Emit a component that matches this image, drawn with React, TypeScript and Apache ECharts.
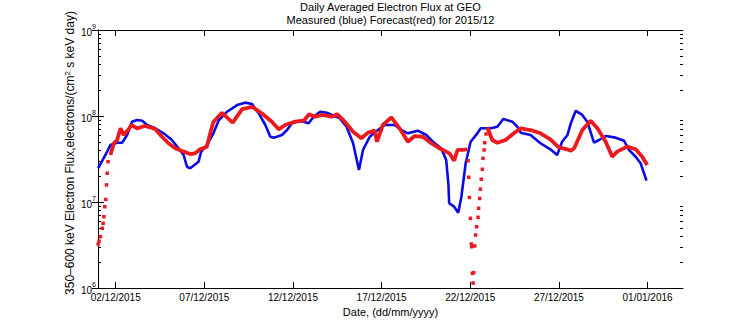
import React, { useEffect, useRef } from 'react';
import * as echarts from 'echarts';

// x values are days since 01/12/2015 00:00 UTC
const startUTC = Date.UTC(2015, 11, 1);

const xTickDays = [1, 6, 11, 16, 21, 26, 31];
const xTickLabels = ['02/12/2015', '07/12/2015', '12/12/2015', '17/12/2015', '22/12/2015', '27/12/2015', '01/01/2016'];

const yMajorTicks = [1e6, 1e7, 1e8, 1e9];
const yMinorTicks = [
  2e6, 3e6, 4e6, 5e6, 6e6, 7e6, 8e6, 9e6,
  2e7, 3e7, 4e7, 5e7, 6e7, 7e7, 8e7, 9e7,
  2e8, 3e8, 4e8, 5e8, 6e8, 7e8, 8e8, 9e8,
];

// Measured (blue)
const measuredDays = [
  0.01, 0.42, 0.70, 1.08, 1.36, 1.64, 1.92, 2.20, 2.49, 2.77,
  3.23, 3.70, 4.17, 4.54, 4.83, 5.02, 5.20, 5.44, 5.67, 5.82,
  6.14, 6.51, 6.82, 7.28, 7.85, 8.31, 8.69, 9.07, 9.44, 9.72,
  9.91, 10.38, 10.66, 10.94, 11.22, 11.60, 11.88, 12.16, 12.53, 12.91,
  13.19, 13.64, 14.02, 14.39, 14.72, 14.95, 15.33, 15.79, 16.17, 16.73,
  17.11, 17.48, 18.04, 18.52, 18.89, 19.36, 19.64, 19.77, 19.81, 20.09,
  20.32, 20.50, 20.74, 21.02, 21.40, 21.59, 22.15, 22.53, 22.86, 23.37,
  23.65, 23.84, 24.40, 24.96, 25.52, 25.90, 26.18, 26.48, 26.67, 26.95,
  27.32, 27.60, 27.98, 28.26, 28.64, 29.20, 29.67, 29.95, 30.33, 30.61,
  30.94,
];
const measuredFlux = [
  2.47e7, 3.52e7, 4.60e7, 4.89e7, 4.89e7, 6.01e7, 8.59e7, 8.98e7, 8.82e7, 7.86e7,
  7.19e7, 6.29e7, 5.26e7, 4.21e7, 3.52e7, 2.57e7, 2.47e7, 2.69e7, 2.94e7, 3.85e7,
  4.60e7, 6.29e7, 8.98e7, 1.12e8, 1.34e8, 1.43e8, 1.38e8, 1.07e8, 7.86e7, 5.74e7,
  5.60e7, 6.01e7, 6.87e7, 8.22e7, 8.59e7, 8.59e7, 8.22e7, 9.82e7, 1.12e8, 1.09e8,
  1.03e8, 9.40e7, 7.51e7, 4.82e7, 2.35e7, 4.03e7, 5.74e7, 6.87e7, 7.86e7, 7.86e7,
  6.87e7, 6.29e7, 6.75e7, 6.01e7, 5.02e7, 4.21e7, 3.08e7, 1.58e7, 9.66e6, 8.82e6,
  7.51e6, 1.15e7, 2.82e7, 5.02e7, 6.29e7, 7.19e7, 7.19e7, 7.51e7, 9.23e7, 8.59e7,
  7.51e7, 6.40e7, 6.01e7, 4.82e7, 4.10e7, 3.52e7, 5.02e7, 6.01e7, 8.22e7, 1.15e8,
  1.03e8, 8.59e7, 4.89e7, 5.26e7, 5.85e7, 5.60e7, 5.16e7, 4.03e7, 3.36e7, 2.82e7,
  1.77e7,
];

// Forecast (red), continuous stretch 1
const forecastADays = [
  0.70, 0.89, 1.08, 1.27, 1.45, 1.73, 1.88, 2.20, 2.63, 2.95,
  3.23, 3.61, 3.98, 4.36, 4.83, 5.20, 5.48, 5.76, 6.14, 6.33,
  6.51, 6.99, 7.60, 8.13, 8.69, 9.25, 9.81, 10.19, 10.56, 11.12,
  11.60, 11.91, 12.25, 12.63, 13.19, 13.49, 13.92, 14.39, 14.86, 15.23,
  15.61, 15.74, 16.07, 16.55, 17.01, 17.48, 17.86, 18.32, 18.80, 19.26,
  19.83, 20.09, 20.28, 20.56, 20.84,
];
const forecastAFlux = [
  3.52e7, 4.82e7, 5.26e7, 7.19e7, 6.01e7, 7.00e7, 7.86e7, 7.19e7, 7.65e7, 7.39e7,
  7.00e7, 5.74e7, 4.82e7, 4.21e7, 3.85e7, 3.61e7, 3.68e7, 4.10e7, 4.40e7, 6.29e7,
  8.51e7, 1.09e8, 8.36e7, 1.20e8, 1.28e8, 1.07e8, 8.59e7, 7.00e7, 7.86e7, 8.59e7,
  8.82e7, 1.05e8, 9.82e7, 1.03e8, 9.82e7, 1.05e8, 8.59e7, 6.57e7, 5.51e7, 6.40e7,
  6.75e7, 5.02e7, 7.86e7, 9.66e7, 7.19e7, 5.02e7, 5.85e7, 5.74e7, 4.82e7, 4.21e7,
  3.68e7, 3.02e7, 4.03e7, 4.03e7, 4.10e7,
];

// Forecast (red), continuous stretch 2
const forecastBDays = [
  21.96, 22.24, 22.53, 22.99, 23.46, 23.84, 24.40, 24.96, 25.52, 25.99,
  26.46, 26.67, 26.86, 27.32, 27.79, 28.17, 28.64, 29.01, 29.29, 29.85,
  30.33, 30.70, 30.98,
];
const forecastBFlux = [
  7.39e7, 5.26e7, 4.89e7, 5.26e7, 6.29e7, 7.19e7, 6.87e7, 6.29e7, 5.36e7, 4.33e7,
  4.10e7, 3.95e7, 4.21e7, 6.87e7, 8.82e7, 7.19e7, 5.02e7, 3.36e7, 3.85e7, 4.40e7,
  4.10e7, 3.36e7, 2.69e7,
];

// Forecast (red), isolated hourly points on steep parts
const forecastDotDays = [
  0.01, 0.06, 0.14, 0.24, 0.29, 0.33, 0.38, 0.44, 0.48, 0.52, 0.57,
  20.88, 20.91, 20.95, 21.01, 21.06, 21.08, 21.12, 21.16,
  21.19, 21.25, 21.30, 21.36, 21.44, 21.47, 21.53, 21.57, 21.62, 21.68,
  21.72, 21.78, 21.81, 21.89,
];
const forecastDotFlux = [
  3.25e6, 3.50e6, 3.95e6, 4.94e6, 5.65e6, 6.75e6, 8.82e6, 1.07e7, 1.58e7, 2.16e7, 2.94e7,
  3.02e7, 1.94e7, 1.13e7, 6.46e6, 3.25e6, 3.02e6, 1.48e6, 1.14e6,
  1.51e6, 3.08e6, 4.13e6, 5.16e6, 6.64e6, 8.45e6, 1.10e7, 1.41e7, 1.84e7, 2.40e7,
  3.22e7, 4.03e7, 4.89e7, 6.18e7,
];

const BLUE = '#0b0be4';
const RED = '#ec1a1e';
const FONT = '"Liberation Sans", Arial, Helvetica, sans-serif';

function pairs(xs: number[], ys: number[]) {
  return xs.map((x, i) => [x, ys[i]]);
}

function dayLabel(v: number) {
  const idx = xTickDays.indexOf(Math.round(v));
  if (idx >= 0) return xTickLabels[idx];
  const d = new Date(startUTC + v * 86400000);
  const dd = String(d.getUTCDate()).padStart(2, '0');
  const mm = String(d.getUTCMonth() + 1).padStart(2, '0');
  return `${dd}/${mm}/${d.getUTCFullYear()}`;
}

export default function App() {
  const ref = useRef<HTMLDivElement>(null);

  useEffect(() => {
    if (!ref.current) return;
    const chart = echarts.init(ref.current, null, { renderer: 'svg' });

    const axisLine = { show: true, lineStyle: { color: '#000', width: 1 } };
    const xCommon = {
      type: 'value',
      min: 0,
      max: 33,
      splitLine: { show: false },
      axisLine,
    };
    const yCommon = {
      type: 'log',
      logBase: 10,
      min: 1e6,
      max: 1e9,
      splitLine: { show: false },
      minorSplitLine: { show: false },
    };

    chart.setOption({
      animation: false,
      backgroundColor: '#ffffff',
      textStyle: { fontFamily: FONT },
      grid: {
        left: 98,
        right: 73,
        top: 30,
        bottom: 36,
        containLabel: false,
        outerBoundsMode: 'none',
      },
      xAxis: [
        {
          ...xCommon,
          position: 'bottom',
          axisTick: { show: true, inside: true, length: 6, customValues: xTickDays, lineStyle: { color: '#000' } },
          axisLabel: {
            show: true,
            customValues: xTickDays,
            formatter: (v: number) => dayLabel(v),
            color: '#000',
            fontSize: 10,
            fontFamily: FONT,
            margin: 4,
          },
          name: 'Date, (dd/mm/yyyy)',
          nameLocation: 'middle',
          nameGap: 15,
          nameTextStyle: { color: '#000', fontSize: 11, fontFamily: FONT },
        },
        {
          ...xCommon,
          position: 'top',
          axisTick: { show: true, inside: true, length: 6, customValues: xTickDays, lineStyle: { color: '#000' } },
          axisLabel: { show: false },
        },
      ],
      yAxis: [
        {
          ...yCommon,
          position: 'left',
          axisLine,
          axisTick: { show: true, inside: true, length: 6, customValues: yMajorTicks, lineStyle: { color: '#000' } },
          axisLabel: {
            show: true,
            customValues: yMajorTicks,
            margin: 2,
            color: '#000',
            formatter: (v: number) => `{b|10}{s|${Math.round(Math.log10(v))}}`,
            rich: {
              b: { fontSize: 10, fontFamily: FONT, color: '#000', lineHeight: 14, verticalAlign: 'bottom' },
              s: { fontSize: 7, fontFamily: FONT, color: '#000', lineHeight: 14, verticalAlign: 'top' },
            },
          },
        },
        {
          ...yCommon,
          position: 'right',
          axisLine,
          axisTick: { show: true, inside: true, length: 6, customValues: yMajorTicks, lineStyle: { color: '#000' } },
          axisLabel: { show: false },
        },
        {
          ...yCommon,
          position: 'left',
          axisLine: { show: false },
          axisTick: { show: true, inside: true, length: 3, customValues: yMinorTicks, lineStyle: { color: '#000' } },
          axisLabel: { show: false },
        },
        {
          ...yCommon,
          position: 'right',
          axisLine: { show: false },
          axisTick: { show: true, inside: true, length: 3, customValues: yMinorTicks, lineStyle: { color: '#000' } },
          axisLabel: { show: false },
        },
      ],
      graphic: [
        {
          type: 'text',
          x: 390.5,
          y: 7,
          style: {
            text: 'Daily Averaged Electron Flux at GEO',
            fontSize: 11,
            fontFamily: FONT,
            fill: '#000',
            align: 'center',
            verticalAlign: 'middle',
            textAlign: 'center',
            textVerticalAlign: 'middle',
          },
        },
        {
          type: 'text',
          x: 390.5,
          y: 20,
          style: {
            text: 'Measured (blue) Forecast(red) for 2015/12',
            fontSize: 11,
            fontFamily: FONT,
            fill: '#000',
            align: 'center',
            verticalAlign: 'middle',
            textAlign: 'center',
            textVerticalAlign: 'middle',
          },
        },
        {
          type: 'text',
          x: 70,
          y: 153,
          rotation: Math.PI / 2,
          style: {
            text: '350–600 keV Electron Flux,electrons/(cm{s|2} s keV day)',
            fontSize: 12,
            fontFamily: FONT,
            fill: '#000',
            align: 'center',
            verticalAlign: 'middle',
            textAlign: 'center',
            textVerticalAlign: 'middle',
            rich: {
              s: { fontSize: 8, fontFamily: FONT, fill: '#000', verticalAlign: 'top', lineHeight: 14 },
            },
          },
        },
      ],
      series: [
        {
          type: 'line',
          name: 'Measured',
          xAxisIndex: 0,
          yAxisIndex: 0,
          data: pairs(measuredDays, measuredFlux),
          symbol: 'none',
          showSymbol: false,
          lineStyle: { color: BLUE, width: 2.6 },
          itemStyle: { color: BLUE },
          z: 2,
        },
        {
          type: 'line',
          name: 'Forecast',
          xAxisIndex: 0,
          yAxisIndex: 0,
          data: pairs(forecastADays, forecastAFlux),
          symbol: 'none',
          showSymbol: false,
          lineStyle: { color: RED, width: 3.8 },
          itemStyle: { color: RED },
          z: 3,
        },
        {
          type: 'line',
          name: 'Forecast',
          xAxisIndex: 0,
          yAxisIndex: 0,
          data: pairs(forecastBDays, forecastBFlux),
          symbol: 'none',
          showSymbol: false,
          lineStyle: { color: RED, width: 3.8 },
          itemStyle: { color: RED },
          z: 3,
        },
        {
          type: 'scatter',
          name: 'Forecast',
          xAxisIndex: 0,
          yAxisIndex: 0,
          data: pairs(forecastDotDays, forecastDotFlux),
          symbol: 'rect',
          symbolSize: 3.5,
          itemStyle: { color: RED, opacity: 1 },
          z: 3,
        },
      ],
    });

    return () => chart.dispose();
  }, []);

  return (
    <div
      ref={ref}
      style={{ position: 'fixed', left: 0, top: 0, width: 756, height: 324, background: '#fff' }}
    />
  );
}
